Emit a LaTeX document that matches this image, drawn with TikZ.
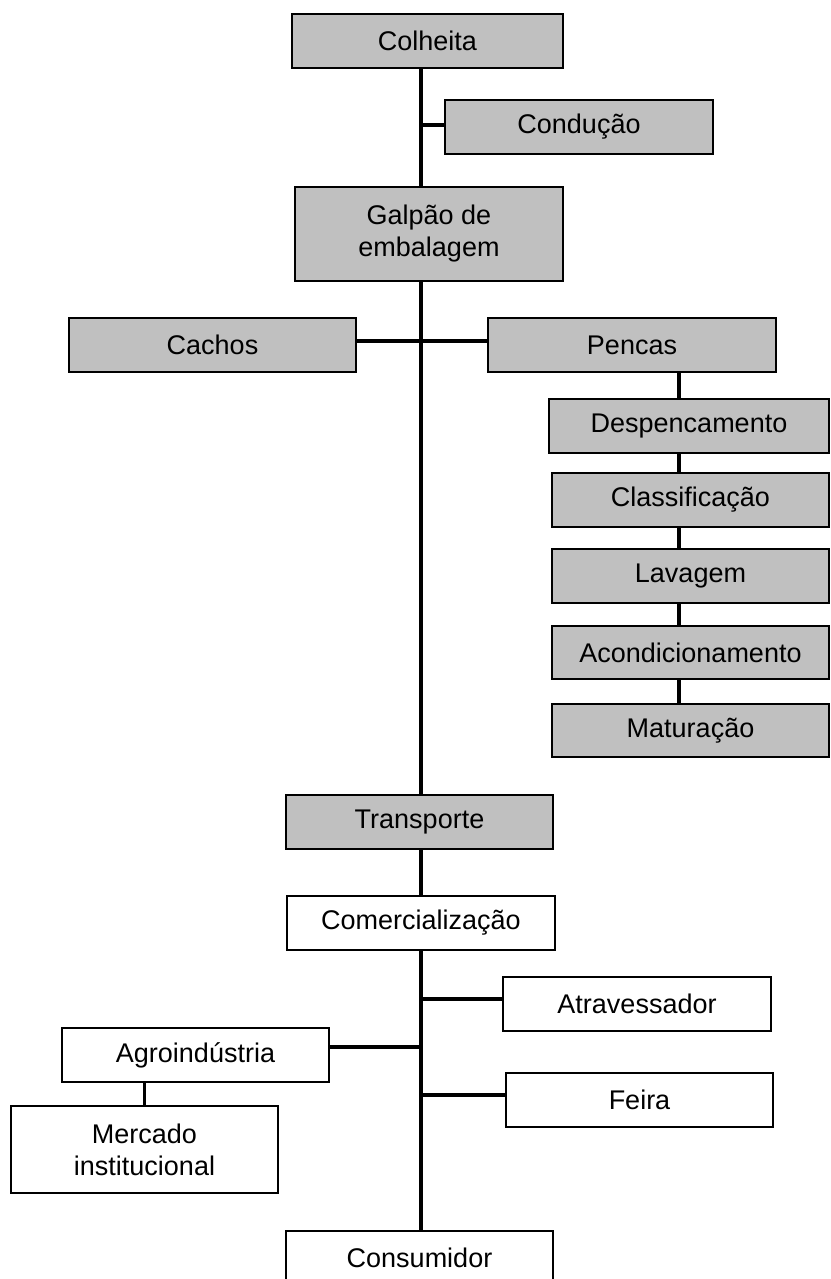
\documentclass[tikz,border=0pt]{standalone}
\usepackage{fontspec}
\setmainfont{Liberation Sans}
\usepackage{tikz}
\definecolor{cinza}{RGB}{192,192,192}
\tikzset{
  etapa/.style={draw=black, line width=1.8pt, fill=cinza, inner sep=0pt, align=center,
    font=\fontsize{27}{32}\selectfont},
  destino/.style={etapa, fill=white},
  liga/.style={line width=3.5pt}
}

\begin{document}
\begin{tikzpicture}[x=1pt, y=-1pt]
\useasboundingbox (0,0) rectangle (830,1279);
% Etapas da colheita ao galpao
\node[etapa, minimum width=271, minimum height=54] (colheita) at (427.5,41) {Colheita};
\node[etapa, minimum width=268, minimum height=54] (conducao) at (579,127) {Condução};
\node[etapa, minimum width=268, minimum height=94] (galpao) at (429,234) {Galpão de\\embalagem};

% Cachos e pencas
\node[etapa, minimum width=287, minimum height=54] (cachos) at (212.5,345) {Cachos};
\node[etapa, minimum width=288, minimum height=54] (pencas) at (632,345) {Pencas};
\node[etapa, minimum width=280, minimum height=54] (despenc) at (689,426) {Despencamento};
\node[etapa, minimum width=277, minimum height=54] (classif) at (690.5,500) {Classificação};
\node[etapa, minimum width=277, minimum height=54] (lavagem) at (690.5,576) {Lavagem};
\node[etapa, minimum width=277, minimum height=53] (acond) at (690.5,652.5) {Acondicionamento};
\node[etapa, minimum width=277, minimum height=53] (matur) at (690.5,730.5) {Maturação};

% Transporte e comercializacao
\node[etapa, minimum width=267, minimum height=54] (transporte) at (419.5,822) {Transporte};
\node[destino, minimum width=268, minimum height=54] (comerc) at (421,923) {Comercialização};
\node[destino, minimum width=268, minimum height=54] (atrav) at (637,1004) {Atravessador};
\node[destino, minimum width=267, minimum height=54] (agro) at (195.5,1055) {Agroindústria};
\node[destino, minimum width=267, minimum height=54] (feira) at (639.5,1100) {Feira};
\node[destino, minimum width=267, minimum height=87] (mercado) at (144.5,1149.5) {Mercado\\institucional};
\node[destino, minimum width=267, minimum height=54] (consumidor) at (419.5,1258) {Consumidor};

% Eixo central
\coordinate (eixo) at (421,0);
\coordinate (cadeia) at (679,0);
\draw[liga] (colheita.south -| eixo) -- (galpao.north -| eixo);
\draw[liga] (galpao.south -| eixo) -- (transporte.north -| eixo);
\draw[liga] (transporte.south -| eixo) -- (comerc.north -| eixo);
\draw[liga] (comerc.south -| eixo) -- (consumidor.north -| eixo);

% Ramos
\coordinate (r1) at (421,125);
\draw[liga] (r1) -- (r1 -| conducao.west);
\coordinate (r2) at (421,341);
\draw[liga] (r2 -| cachos.east) -- (r2 -| pencas.west);
\coordinate (r3) at (421,999);
\draw[liga] (r3) -- (r3 -| atrav.west);
\coordinate (r4) at (421,1047);
\draw[liga] (r4) -- (r4 -| agro.east);
\coordinate (r5) at (421,1095);
\draw[liga] (r5) -- (r5 -| feira.west);

% Cadeia das pencas
\draw[liga] (pencas.south -| cadeia) -- (despenc.north -| cadeia);
\foreach \a/\b in {despenc/classif, classif/lavagem, lavagem/acond, acond/matur}
  \draw[liga] (\a.south -| cadeia) -- (\b.north -| cadeia);
\draw[liga] (agro.south -| mercado) -- (mercado.north);
\end{tikzpicture}
\end{document}
